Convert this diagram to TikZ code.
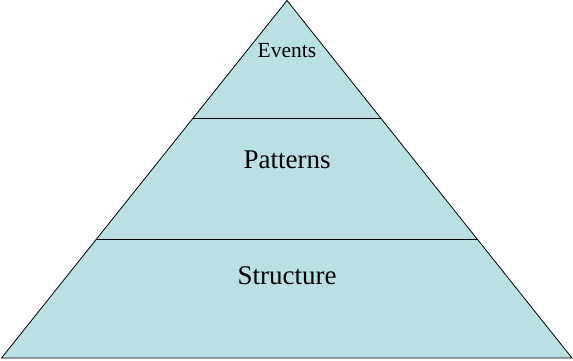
\documentclass[tikz,border=0pt]{standalone}
\usepackage{fontspec}
\setmainfont{Liberation Serif}
\usetikzlibrary{calc}
\begin{document}
\begin{tikzpicture}[x=1pt,y=-1pt]
\tikzstyle{every node}=[]
\tikzstyle{layer}=[fill=none, text=black, inner sep=0pt]
\definecolor{pyramidblue}{HTML}{BAE0E3}
\useasboundingbox (0,0) rectangle (573,360);

\coordinate (top) at (287,0.5);
\coordinate (L) at (1.5,358);
\coordinate (R) at (572,358);
\coordinate (L1) at ($(top)!0.33!(L)$);
\coordinate (R1) at ($(top)!0.33!(R)$);
\coordinate (L2) at ($(top)!0.668!(L)$);
\coordinate (R2) at ($(top)!0.668!(R)$);

\draw[fill=pyramidblue, line width=0.8pt, line join=miter] (top) -- (L) -- (R) -- cycle;
\draw[line width=0.8pt] (L1) -- (R1);
\draw[line width=0.8pt] (L2) -- (R2);

\node[layer, font=\fontsize{21.5}{24}\selectfont] (E) at (287,51) {Events};
\node[layer, font=\fontsize{27}{30}\selectfont] (P) at (287,160) {Patterns};
\node[layer, font=\fontsize{27}{30}\selectfont] (S) at (287,276) {Structure};
\end{tikzpicture}
\end{document}
